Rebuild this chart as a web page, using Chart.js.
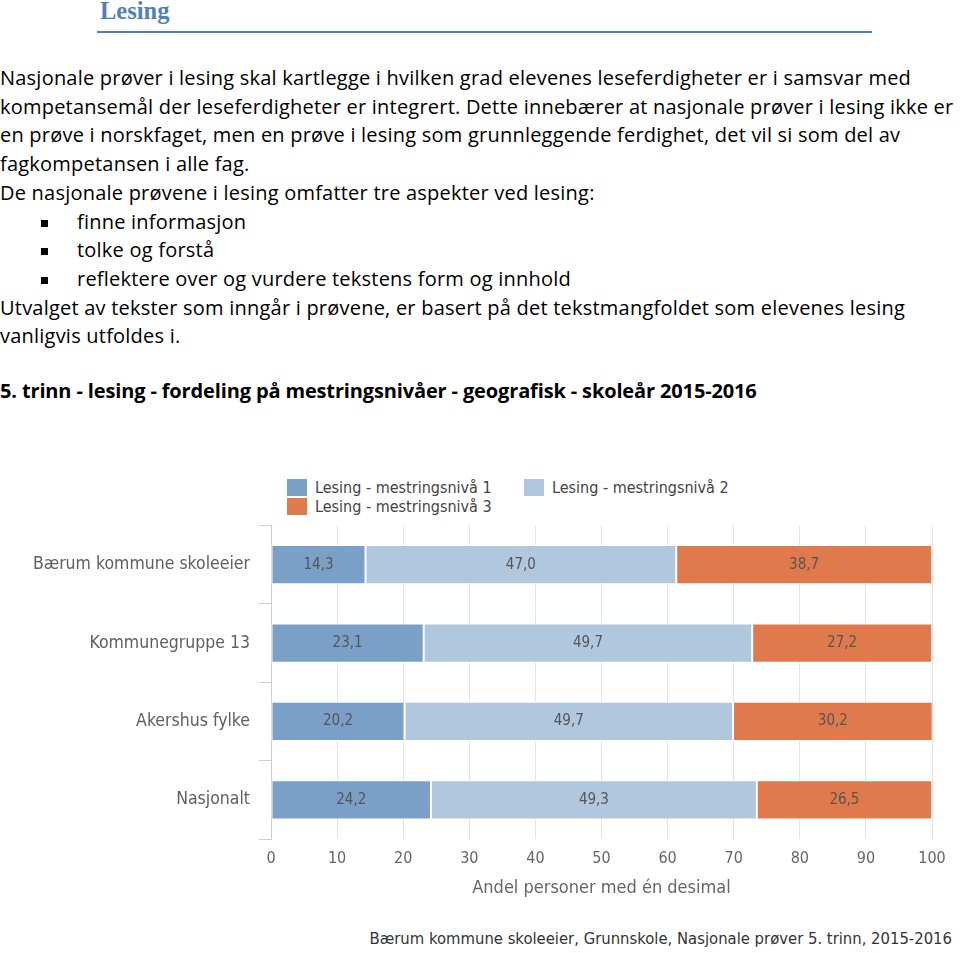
<!DOCTYPE html>
<html>
<head>
<meta charset="utf-8">
<script src="https://cdn.jsdelivr.net/npm/chart.js@4"></script>
<style>
  body { margin: 0; background: #fff; width: 960px; height: 953px; position: relative; overflow: hidden; }
  .hd { position: absolute; left: 100px; top: -3px; font: bold 24.5px "Liberation Serif", serif; color: #4f81bd; }
  .hr { position: absolute; left: 97px; top: 31px; width: 775px; height: 2px; background: #4f81bd; }
  .txt { position: absolute; left: 0; top: 64px; font: 20px "Open Sans", sans-serif; letter-spacing: 0.22px; line-height: 28.7px; color: #000; white-space: nowrap; }
  .txt .b { padding-left: 77px; position: relative; }
  .txt .b:before { content: ""; position: absolute; left: 41px; top: 12px; width: 7px; height: 7px; background: #000; }
  .sub { position: absolute; left: 0; top: 377px; font: bold 20px "Open Sans", sans-serif; letter-spacing: -0.14px; white-space: nowrap; }
  .legend { position: absolute; left: 287px; top: 478px; font: 16px "DejaVu Sans Condensed", "DejaVu Sans", sans-serif; font-stretch: condensed; color: #444; }
  .legend span { position: absolute; white-space: nowrap; }
  .legend i { display: inline-block; width: 20px; height: 17px; vertical-align: -3px; margin-right: 8px; }
  .foot { position: absolute; right: 8px; top: 929px; font: 16.5px "DejaVu Sans Condensed", "DejaVu Sans", sans-serif; font-stretch: condensed; color: #333; white-space: nowrap; }
  #wrap { position: absolute; left: 0; top: 506px; width: 960px; height: 395px; }
</style>
</head>
<body>
<div class="hd">Lesing</div>
<div class="hr"></div>
<div class="txt">
  <div>Nasjonale prøver i lesing skal kartlegge i hvilken grad elevenes leseferdigheter er i samsvar med</div>
  <div>kompetansemål der leseferdigheter er integrert. Dette innebærer at nasjonale prøver i lesing ikke er</div>
  <div>en prøve i norskfaget, men en prøve i lesing som grunnleggende ferdighet, det vil si som del av</div>
  <div>fagkompetansen i alle fag.</div>
  <div>De nasjonale prøvene i lesing omfatter tre aspekter ved lesing:</div>
  <div class="b">finne informasjon</div>
  <div class="b">tolke og forstå</div>
  <div class="b">reflektere over og vurdere tekstens form og innhold</div>
  <div>Utvalget av tekster som inngår i prøvene, er basert på det tekstmangfoldet som elevenes lesing</div>
  <div>vanligvis utfoldes i.</div>
</div>
<div class="sub">5. trinn - lesing - fordeling på mestringsnivåer - geografisk - skoleår 2015-2016</div>
<div class="legend" id="legend"></div>
<div id="wrap"><canvas id="chart"></canvas></div>
<div class="foot">Bærum kommune skoleeier, Grunnskole, Nasjonale prøver 5. trinn, 2015-2016</div>

<script>
// data
var kategorier = ['Bærum kommune skoleeier', 'Kommunegruppe 13', 'Akershus fylke', 'Nasjonalt'];
var serieNavn = ['Lesing - mestringsnivå 1', 'Lesing - mestringsnivå 2', 'Lesing - mestringsnivå 3'];
var nivaa1 = [14.3, 23.1, 20.2, 24.2];
var nivaa2 = [47.0, 49.7, 49.7, 49.3];
var nivaa3 = [38.7, 27.2, 30.2, 26.5];
var farger = ['#7ba0c7', '#b0c7de', '#e07a4d'];
var xTicks = [0, 10, 20, 30, 40, 50, 60, 70, 80, 90, 100];

var chartFont = '"DejaVu Sans Condensed", "DejaVu Sans", sans-serif';

// legend (to kolonner som i originalen)
var legendPos = [[0, 0], [237, 0], [0, 19]];
var lg = document.getElementById('legend');
serieNavn.forEach(function(n, i){
  var s = document.createElement('span');
  s.style.left = legendPos[i][0] + 'px';
  s.style.top = legendPos[i][1] + 'px';
  s.innerHTML = '<i style="background:' + farger[i] + '"></i>' + n;
  lg.appendChild(s);
});

// verdier midt i stolpene
var verdiLabels = {
  id: 'verdiLabels',
  afterDatasetsDraw: function(chart){
    var ctx = chart.ctx;
    ctx.save();
    ctx.font = '15px ' + chartFont;
    ctx.fillStyle = '#555';
    ctx.textAlign = 'center';
    ctx.textBaseline = 'middle';
    chart.data.datasets.forEach(function(ds, i){
      chart.getDatasetMeta(i).data.forEach(function(bar, j){
        var p = bar.getCenterPoint();
        ctx.fillText(ds.data[j].toFixed(1).replace('.', ','), p.x, p.y);
      });
    });
    ctx.restore();
  }
};

var ctx = document.getElementById('chart').getContext('2d');
var chart = new Chart(ctx, {
  type: 'bar',
  data: {
    labels: kategorier,
    datasets: [nivaa1, nivaa2, nivaa3].map(function(d, i){
      return {
        label: serieNavn[i],
        data: d,
        backgroundColor: farger[i],
        borderColor: '#fff',
        borderWidth: 1,
        borderSkipped: false,
        barPercentage: 0.5,
        categoryPercentage: 1
      };
    })
  },
  plugins: [verdiLabels],
  options: {
    indexAxis: 'y',
    responsive: true,
    maintainAspectRatio: false,
    animation: false,
    layout: { padding: { top: 5, right: 28, bottom: 4, left: 0 } },
    plugins: {
      legend: { display: false },
      tooltip: { enabled: false }
    },
    scales: {
      x: {
        stacked: true,
        min: 0,
        max: 100,
        afterBuildTicks: function(s){ s.ticks = xTicks.map(function(v){ return { value: v }; }); },
        grid: { color: '#e3e3e3', drawTicks: false },
        border: { display: false },
        ticks: { padding: 12, color: '#666', font: { family: chartFont, size: 16, lineHeight: 1 } },
        title: {
          display: true,
          text: 'Andel personer med én desimal',
          color: '#666',
          font: { family: chartFont, size: 18, lineHeight: 1 },
          padding: { top: 0, bottom: 0 }
        }
      },
      y: {
        stacked: true,
        afterFit: function(s){ s.width = 271; },
        grid: { offset: true, drawOnChartArea: false, tickLength: 12, color: '#c8d0dc' },
        border: { color: '#c8d0dc' },
        ticks: { padding: 9, color: '#606060', font: { family: chartFont, size: 17.5 } }
      }
    }
  }
});
</script>
</body>
</html>
